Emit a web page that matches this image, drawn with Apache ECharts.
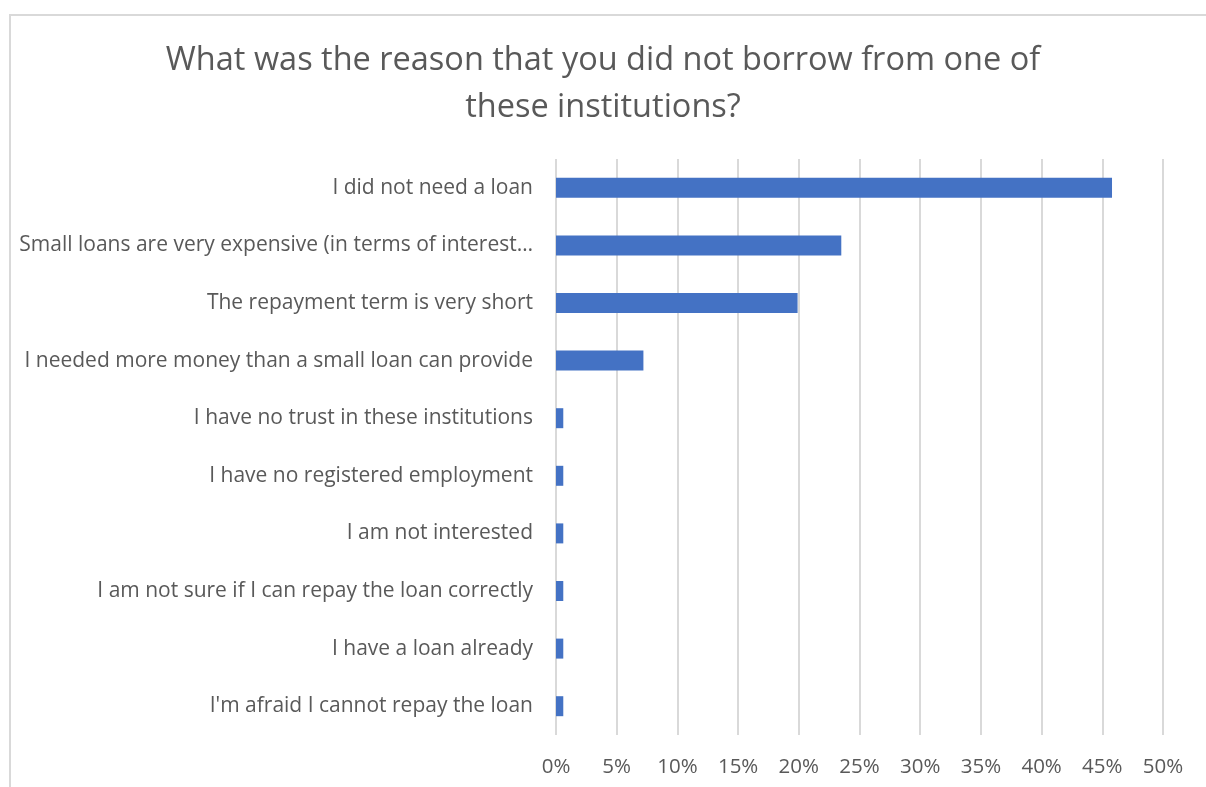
<!DOCTYPE html>
<html>
<head>
<meta charset="utf-8">
<script src="https://cdn.jsdelivr.net/npm/echarts@6/dist/echarts.min.js"></script>
<style>
  html, body { margin: 0; padding: 0; background: #ffffff; }
  #chart { width: 1206px; height: 787px; }
</style>
</head>
<body>
<div id="chart"></div>
<script>
// Survey answers, listed top to bottom as they appear on the chart
const reasons = [
  "I did not need a loan",
  "Small loans are very expensive (in terms of interest…",
  "The repayment term is very short",
  "I needed more money than a small loan can provide",
  "I have no trust in these institutions",
  "I have no registered employment",
  "I am not interested",
  "I am not sure if I can repay the loan correctly",
  "I have a loan already",
  "I'm afraid I cannot repay the loan"
];
// Share of respondents (percent)
const shares = [45.8, 23.5, 19.9, 7.2, 0.6, 0.6, 0.6, 0.6, 0.6, 0.6];

const titleLines = [
  "What was the reason that you did not borrow from one of",
  "these institutions?"
];

const textColor = "#595959";
const gridColor = "#d9d9d9";
const barColor = "#4472c4";
const font = "'Open Sans', 'Noto Sans', sans-serif";

const chart = echarts.init(document.getElementById("chart"), null, { renderer: "canvas" });

chart.setOption({
  backgroundColor: "#ffffff",
  animation: false,
  title: {
    text: titleLines.join("\n"),
    left: "center",
    top: 32,
    textStyle: {
      color: textColor,
      fontFamily: font,
      fontWeight: "normal",
      fontSize: 32.5,
      lineHeight: 47
    }
  },
  graphic: [{
    type: "rect",
    shape: { x: 10, y: 15, width: 1250, height: 820 },
    style: { fill: "none", stroke: gridColor, lineWidth: 2 },
    silent: true,
    z: -1
  }],
  grid: {
    left: 556,
    right: 43,
    top: 159,
    bottom: 52,
    containLabel: false
  },
  xAxis: {
    type: "value",
    min: 0,
    max: 50,
    interval: 5,
    axisLine: { show: false },
    axisTick: { show: false },
    splitLine: { show: true, lineStyle: { color: gridColor, width: 2 } },
    axisLabel: {
      color: textColor,
      fontFamily: font,
      fontSize: 20.5,
      margin: 22,
      formatter: v => v + "%"
    }
  },
  yAxis: {
    type: "category",
    inverse: true,
    data: reasons,
    axisLine: { show: false },
    axisTick: { show: false },
    splitLine: { show: false },
    axisLabel: {
      color: textColor,
      fontFamily: font,
      fontSize: 21,
      margin: 23
    }
  },
  series: [{
    type: "bar",
    data: shares,
    barWidth: "34.7%",
    itemStyle: { color: barColor },
    silent: true
  }]
});
</script>
</body>
</html>
